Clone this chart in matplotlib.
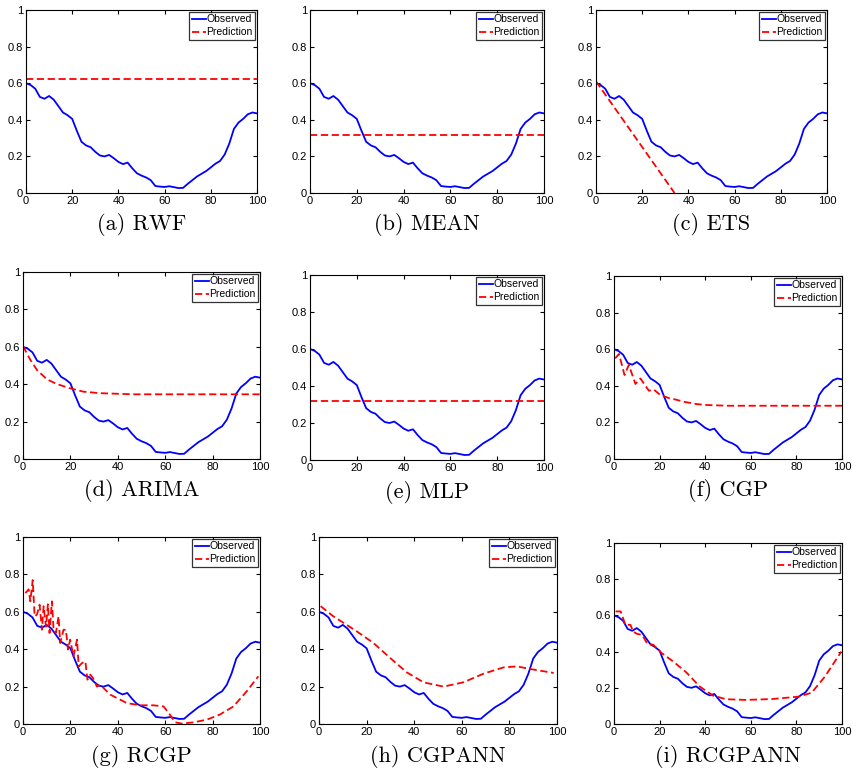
import numpy as np
import matplotlib
matplotlib.use('Agg')
import matplotlib.pyplot as plt

plt.rcParams['font.family'] = ['Liberation Sans', 'DejaVu Sans']

# observed series (same in every panel)
obs_x = [0, 2, 4, 6, 8, 10, 12, 14, 16, 18, 20, 22, 24, 26, 28, 30, 32, 34, 36, 38, 40,
         42, 44, 46, 48, 50, 52, 54, 56, 58, 60, 62, 64, 66, 68, 70, 72, 74, 76, 78, 80,
         82, 84, 86, 88, 90, 92, 94, 96, 98, 100]
obs_y = [0.60, 0.59, 0.57, 0.525, 0.515, 0.53, 0.51, 0.475, 0.44, 0.425, 0.405, 0.34, 0.28,
         0.26, 0.25, 0.225, 0.205, 0.20, 0.208, 0.19, 0.17, 0.158, 0.166, 0.135, 0.108, 0.095,
         0.085, 0.07, 0.038, 0.035, 0.033, 0.037, 0.032, 0.027, 0.028, 0.05, 0.07, 0.09, 0.105,
         0.12, 0.14, 0.16, 0.175, 0.21, 0.27, 0.35, 0.385, 0.405, 0.43, 0.44, 0.435]

# predictions
rwf_x = [0, 100]
rwf_y = [0.625, 0.625]
mean_x = [0, 100]
mean_y = [0.315, 0.315]
ets_x = [0, 34]
ets_y = [0.61, 0.0]
arima_x = [0, 3.1, 5.9, 10.1, 14.3, 19.9, 25.5, 32.5, 46.5, 60, 80, 100]
arima_y = [0.604, 0.53, 0.476, 0.426, 0.401, 0.378, 0.36, 0.352, 0.346, 0.346, 0.346, 0.346]
mlp_x = [0, 100]
mlp_y = [0.32, 0.32]
cgp_x = [0.5, 2.2, 4.6, 6.5, 9.4, 11.6, 15.3, 17.4, 20.3, 24.7, 27, 30.5, 36.3, 40.7, 50, 60, 100]
cgp_y = [0.55, 0.574, 0.459, 0.514, 0.41, 0.44, 0.373, 0.38, 0.35, 0.33, 0.325, 0.313, 0.30, 0.295, 0.291, 0.291, 0.291]
rcgp_x = [1, 2.4, 3.1, 4.1, 4.9, 5.9, 7, 8, 8.7, 9.7, 10.5, 11.2, 12.2, 12.9, 13.9, 15, 15.7,
          17.1, 18.1, 19, 19.9, 21.3, 22.8, 23.5, 24.9, 26.3, 27.2, 28.4, 29.5, 31.2, 32.6,
          36.8, 43.8, 49.4, 55, 59.3, 62, 64.2, 67, 72, 77.5, 83, 88.8, 94.4, 99.3]
rcgp_y = [0.70, 0.72, 0.656, 0.77, 0.576, 0.585, 0.638, 0.504, 0.63, 0.52, 0.64, 0.487, 0.656,
          0.504, 0.487, 0.576, 0.433, 0.504, 0.504, 0.398, 0.451, 0.362, 0.451, 0.308, 0.326,
          0.335, 0.237, 0.264, 0.246, 0.20, 0.21, 0.157, 0.112, 0.10, 0.10, 0.094, 0.05, 0.009,
          0.002, 0.009, 0.023, 0.05, 0.094, 0.175, 0.255]
cgpann_x = [0.7, 6, 15.8, 22.9, 29.9, 36.9, 43.9, 52.3, 60.7, 69.1, 77.6, 83.2, 88.8, 98.6]
cgpann_y = [0.63, 0.576, 0.496, 0.433, 0.353, 0.276, 0.223, 0.20, 0.223, 0.269, 0.303, 0.308, 0.294, 0.273]
rcgpann_x = [0.7, 2.9, 5, 7.2, 8.4, 10.1, 12.3, 14.5, 17.3, 21, 26, 31.8, 37.6, 43.4, 49.1,
             57.8, 69.4, 80.9, 86.7, 92.5, 99.7]
rcgpann_y = [0.622, 0.622, 0.548, 0.548, 0.511, 0.498, 0.493, 0.446, 0.437, 0.391, 0.345, 0.284,
             0.207, 0.157, 0.137, 0.133, 0.138, 0.151, 0.173, 0.262, 0.40]

captions = ['(a) RWF', '(b) MEAN', '(c) ETS', '(d) ARIMA', '(e) MLP', '(f) CGP',
            '(g) RCGP', '(h) CGPANN', '(i) RCGPANN']
preds = [(rwf_x, rwf_y), (mean_x, mean_y), (ets_x, ets_y), (arima_x, arima_y), (mlp_x, mlp_y),
         (cgp_x, cgp_y), (rcgp_x, rcgp_y), (cgpann_x, cgpann_y), (rcgpann_x, rcgpann_y)]

# axes boxes in pixels: left, right, top, bottom
boxes = [(26, 257, 10, 193), (310, 544, 10, 193), (596, 827, 10, 193),
         (23, 260, 272, 459), (310, 544, 275, 460), (614, 842, 276, 459),
         (23, 260, 537, 724), (319, 557, 537, 724), (614, 842, 543, 724)]

W, H = 852, 775
fig = plt.figure(figsize=(W / 100, H / 100), dpi=100)

for i in range(9):
    l, r, t, b = boxes[i]
    ax = fig.add_axes([l / W, 1 - b / H, (r - l) / W, (b - t) / H])
    ax.plot(obs_x, obs_y, color='#0000ff', lw=1.3, label='Observed')
    px, py = preds[i]
    ax.plot(px, py, color='#ff0000', lw=1.3, ls=(0, (4, 2)), label='Prediction')
    ax.set_xlim(0, 100)
    ax.set_ylim(0, 1)
    ax.set_xticks([0, 20, 40, 60, 80, 100])
    ax.set_yticks([0, 0.2, 0.4, 0.6, 0.8, 1])
    ax.set_yticklabels(['0', '0.2', '0.4', '0.6', '0.8', '1'])
    ax.tick_params(direction='in', length=3, labelsize=8, top=True, right=True, pad=2)
    for s in ax.spines.values():
        s.set_linewidth(0.8)
    leg = ax.legend(loc='upper right', fontsize=7.5, frameon=True, fancybox=False,
                    borderpad=0.25, handlelength=1.3, handletextpad=0.1, labelspacing=0.3,
                    borderaxespad=0.15)
    leg.get_frame().set_edgecolor('black')
    leg.get_frame().set_linewidth(0.9)
    fig.text((l + r) / 2 / W, 1 - (b + 32) / H, captions[i], ha='center', va='center',
             fontsize=16, family='cmr10')

fig.savefig('out.png', dpi=100)
